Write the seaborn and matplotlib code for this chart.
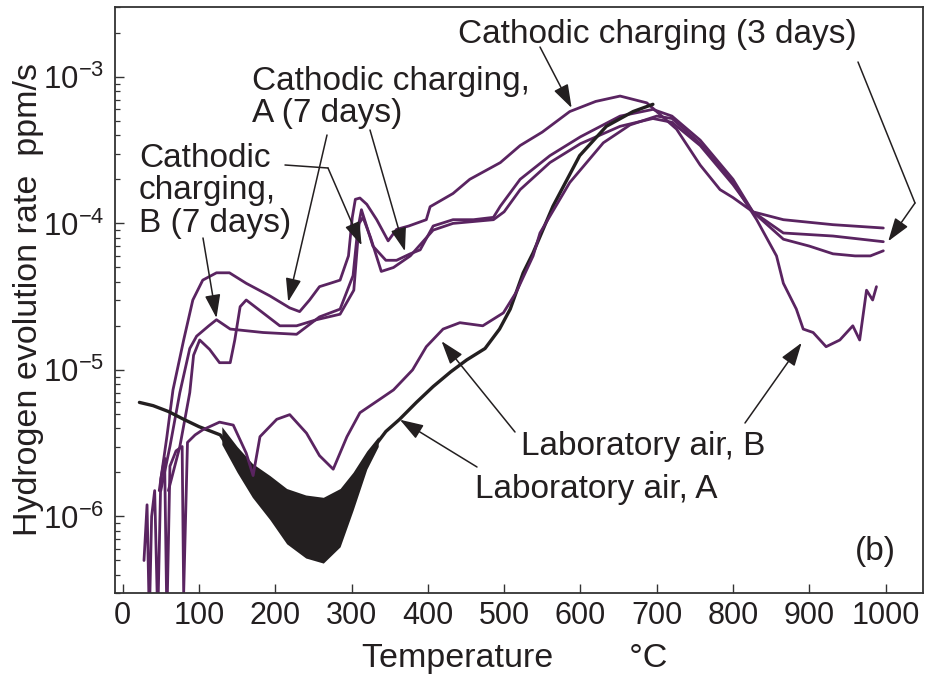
import numpy as np
import pandas as pd
import matplotlib
matplotlib.use("Agg")
import matplotlib.pyplot as plt
import seaborn as sns
from matplotlib.ticker import FixedLocator, FixedFormatter, LogLocator, NullFormatter

# ---------------- data ----------------
# Cathodic charging (3 days)
c3_T = [48, 58, 66, 80, 92, 105, 123, 140, 162, 193, 219, 232, 245, 258, 272, 285, 296, 301,
        305, 311, 320, 333, 348, 359, 375, 398, 403, 433, 455, 495, 521, 550, 586, 620, 652,
        687, 726, 757, 783, 800, 826, 866, 900, 931, 960, 980, 997]
c3_r = [1.5e-6, 3.5e-6, 7.3e-6, 1.6e-5, 3.0e-5, 4.1e-5, 4.6e-5, 4.6e-5, 3.9e-5, 3.2e-5, 2.65e-5,
        2.5e-5, 3.0e-5, 3.7e-5, 3.9e-5, 4.1e-5, 6.0e-5, 1.1e-4, 1.46e-4, 1.49e-4, 1.35e-4,
        1.06e-4, 7.6e-5, 9.1e-5, 9.6e-5, 1.06e-4, 1.3e-4, 1.6e-4, 2.0e-4, 2.6e-4, 3.4e-4,
        4.2e-4, 5.8e-4, 6.8e-4, 7.4e-4, 6.65e-4, 4.4e-4, 2.5e-4, 1.7e-4, 1.5e-4, 1.2e-4,
        7.8e-5, 7.0e-5, 6.2e-5, 6.0e-5, 6.0e-5, 6.5e-5]

# Cathodic charging, A (7 days)
ca_T = [50, 62, 75, 88, 97, 113, 123, 141, 184, 228, 258, 285, 302, 308, 313, 328, 345, 359,
        377, 390, 407, 433, 460, 486, 495, 521, 560, 600, 652, 695, 720, 757, 800, 826, 866,
        931, 997]
ca_r = [1.5e-6, 3.0e-6, 7.0e-6, 1.4e-5, 1.7e-5, 2.0e-5, 2.2e-5, 1.9e-5, 1.8e-5, 1.75e-5,
        2.3e-5, 2.6e-5, 4.4e-5, 9.0e-5, 1.24e-4, 7.0e-5, 5.6e-5, 5.6e-5, 6.2e-5, 6.6e-5,
        9.6e-5, 1.06e-4, 1.06e-4, 1.1e-4, 1.31e-4, 2.0e-4, 2.9e-4, 3.9e-4, 5.4e-4, 6.0e-4,
        5.4e-4, 3.7e-4, 2.0e-4, 1.2e-4, 1.06e-4, 9.8e-5, 9.3e-5]

# Cathodic charging, B (7 days)
cb_T = [60, 75, 88, 93, 101, 114, 127, 141, 147, 154, 162, 184, 206, 228, 254, 285, 303, 310,
        315, 325, 339, 355, 377, 407, 433, 486, 500, 521, 560, 600, 652, 695, 720, 757, 800,
        826, 866, 931, 997]
cb_r = [1.5e-6, 3.0e-6, 7.0e-6, 1.26e-5, 1.6e-5, 1.38e-5, 1.12e-5, 1.12e-5, 1.6e-5, 2.7e-5,
        3.0e-5, 2.45e-5, 2.0e-5, 2.0e-5, 2.2e-5, 2.4e-5, 3.5e-5, 1.0e-4, 1.1e-4, 8.0e-5,
        4.7e-5, 5.0e-5, 6.0e-5, 9.0e-5, 1.0e-4, 1.06e-4, 1.2e-4, 1.7e-4, 2.6e-4, 3.5e-4,
        4.6e-4, 5.2e-4, 4.9e-4, 3.4e-4, 1.84e-4, 1.2e-4, 8.6e-5, 8.2e-5, 7.5e-5]

# Laboratory air, B
lb_T = [28, 32, 35, 38, 42, 46, 50, 55, 58, 62, 70, 78, 80, 85, 95, 105, 127, 145, 162, 171,
        180, 202, 219, 241, 258, 276, 294, 311, 337, 355, 380, 398, 420, 442, 472, 499, 516,
        538, 547, 586, 630, 665, 700, 720, 757, 800, 831, 857, 866, 883, 892, 905, 922, 940,
        957, 966, 975, 983, 988]
lb_r = [5e-7, 1.2e-6, 2e-7, 1.0e-6, 1.5e-6, 2e-7, 1.8e-6, 2.5e-6, 2e-7, 2.2e-6, 2.8e-6, 3.0e-6,
        3e-7, 3.2e-6, 3.6e-6, 3.9e-6, 4.4e-6, 4.2e-6, 2.7e-6, 1.9e-6, 3.5e-6, 4.6e-6, 4.95e-6,
        3.7e-6, 2.6e-6, 2.1e-6, 3.5e-6, 5.1e-6, 6.3e-6, 7.3e-6, 1.0e-5, 1.44e-5, 1.9e-5,
        2.1e-5, 2.0e-5, 2.45e-5, 3.4e-5, 6.0e-5, 8.6e-5, 1.9e-4, 3.55e-4, 4.7e-4, 5.4e-4,
        5.2e-4, 3.5e-4, 1.9e-4, 1.06e-4, 6.0e-5, 3.9e-5, 2.6e-5, 1.9e-5, 1.8e-5, 1.44e-5,
        1.6e-5, 2.0e-5, 1.6e-5, 3.5e-5, 3.0e-5, 3.7e-5]

# Laboratory air, A
la_T = [22, 40, 60, 80, 100, 128, 150, 170, 193, 215, 240, 263, 285, 302, 315, 328, 345, 363,
        385, 407, 430, 451, 475, 494, 508, 525, 538, 564, 599, 634, 669, 695]
la_r = [6.0e-6, 5.7e-6, 5.2e-6, 4.6e-6, 4.1e-6, 3.6e-6, 2.4e-6, 1.8e-6, 1.35e-6, 1.05e-6,
        8.5e-7, 7.8e-7, 1.0e-6, 1.5e-6, 2.1e-6, 2.9e-6, 3.8e-6, 4.6e-6, 6.0e-6, 7.7e-6,
        9.7e-6, 1.17e-5, 1.4e-5, 1.9e-5, 2.6e-5, 4.6e-5, 6.3e-5, 1.31e-4, 2.9e-4, 4.6e-4,
        5.8e-4, 6.5e-4]
# noisy envelope of laboratory air, A
la_band_T = [130, 150, 170, 193, 215, 240, 263, 285, 302, 320, 335]
la_band_hi = [4.1e-6, 3.0e-6, 2.3e-6, 1.9e-6, 1.55e-6, 1.4e-6, 1.35e-6, 1.55e-6, 2.0e-6, 2.8e-6, 3.5e-6]
la_band_lo = [3.1e-6, 2.0e-6, 1.35e-6, 9.5e-7, 6.5e-7, 5.2e-7, 4.8e-7, 6.2e-7, 1.1e-6, 2.1e-6, 3.0e-6]

x_ticks = [0, 100, 200, 300, 400, 500, 600, 700, 800, 900, 1000]
y_ticks = [1e-6, 1e-5, 1e-4, 1e-3]
y_tick_labels = ["$10^{-6}$", "$10^{-5}$", "$10^{-4}$", "$10^{-3}$"]

PURPLE = "#5a2461"
BLACK = "#231f20"
INK = "#231f20"

# ---------------- figure ----------------
sns.set_theme(style="ticks")
plt.rcParams["font.family"] = ["Liberation Sans", "DejaVu Sans"]
plt.rcParams["mathtext.default"] = "regular"
plt.rcParams["axes.unicode_minus"] = False

W, H = 931, 679
fig = plt.figure(figsize=(W / 100, H / 100), dpi=100)
ax = fig.add_axes([115 / W, 1 - 593 / H, (923 - 115) / W, (593 - 7) / H])

for T, r in [(c3_T, c3_r), (ca_T, ca_r), (cb_T, cb_r)]:
    sns.lineplot(x=T, y=r, ax=ax, color=PURPLE, linewidth=2.0, estimator=None, sort=False,
                 legend=False)

ax.fill_between(la_band_T, la_band_lo, la_band_hi, color=BLACK, linewidth=0)
sns.lineplot(x=la_T, y=la_r, ax=ax, color=BLACK, linewidth=2.4, estimator=None, sort=False,
             legend=False)
sns.lineplot(x=lb_T, y=lb_r, ax=ax, color=PURPLE, linewidth=2.0, estimator=None, sort=False,
             legend=False)

ax.set_yscale("log")
ax.set_xlim(-10, 1049)
ax.set_ylim(3e-7, 3e-3)

ax.xaxis.set_major_locator(FixedLocator(x_ticks))
ax.xaxis.set_major_formatter(FixedFormatter([str(v) for v in x_ticks]))
ax.yaxis.set_major_locator(FixedLocator(y_ticks))
ax.yaxis.set_major_formatter(FixedFormatter(y_tick_labels))
ax.yaxis.set_minor_locator(LogLocator(base=10, subs=np.arange(2, 10)))
ax.yaxis.set_minor_formatter(NullFormatter())
ax.xaxis.set_minor_locator(FixedLocator([]))

ax.tick_params(axis="both", which="major", direction="in", length=6.5, width=1.0,
               color="#333333", labelcolor=INK, top=False, right=False)
ax.tick_params(axis="y", which="minor", direction="in", length=3.5, width=0.9,
               color="#333333", right=False)
ax.tick_params(axis="x", labelsize=22, pad=6)
ax.tick_params(axis="y", labelsize=22.5, pad=8)
for s in ax.spines.values():
    s.set_color("#333333")
    s.set_linewidth(1.3)
ax.grid(False)

ax.set_xlabel("Temperature        °C", fontsize=24.5, color=INK)
ax.xaxis.set_label_coords((515 - 115) / 808, -(643 - 593) / 586)
ax.set_ylabel("Hydrogen evolution rate  ppm/s", fontsize=24.5, color=INK)
ax.yaxis.set_label_coords((44 - 115) / 808, 0.5)

# ---------------- annotations ----------------
FS = 24


def label(px, py, s):
    fig.text(px / W, 1 - py / H, s, fontsize=FS, color=INK, ha="left", va="baseline")


label(458, 43, "Cathodic charging (3 days)")
label(252, 90, "Cathodic charging,")
label(252, 122, "A (7 days)")
label(139, 167, "Cathodic")
label(139, 199, "charging,")
label(139, 232, "B (7 days)")
label(521, 455, "Laboratory air, B")
label(475, 498, "Laboratory air, A")
label(855, 560, "(b)")

AP = dict(arrowstyle="-|>,head_length=0.6,head_width=0.2", color=INK, lw=1.1,
          shrinkA=0, shrinkB=0, mutation_scale=24)
LP = dict(arrowstyle="-", color=INK, lw=1.1, shrinkA=0, shrinkB=0)


def arrow(tip, start_px, bend_px=None):
    sx, sy = start_px
    if bend_px is not None:
        bx, by = bend_px
        ax.annotate("", xy=(bx, H - by), xycoords="figure pixels",
                    xytext=(sx, H - sy), textcoords="figure pixels", arrowprops=LP)
        sx, sy = bx, by
    ax.annotate("", xy=tip, xycoords="data", xytext=(sx, H - sy),
                textcoords="figure pixels", arrowprops=AP)


arrow((588.5, 6.14e-4), (540, 47))
arrow((1003.4, 7.55e-5), (858, 62), (915, 203))
arrow((217, 2.92e-5), (327, 135))
arrow((370, 6.46e-5), (370, 130))
arrow((123, 2.26e-5), (203, 238))
arrow((313.2, 7.08e-5), (285, 165), (328, 168))
arrow((889.9, 1.53e-5), (745, 423))
arrow((418, 1.57e-5), (515, 432))
arrow((363.4, 4.57e-6), (477, 467))

fig.savefig("out.png", dpi=100)
